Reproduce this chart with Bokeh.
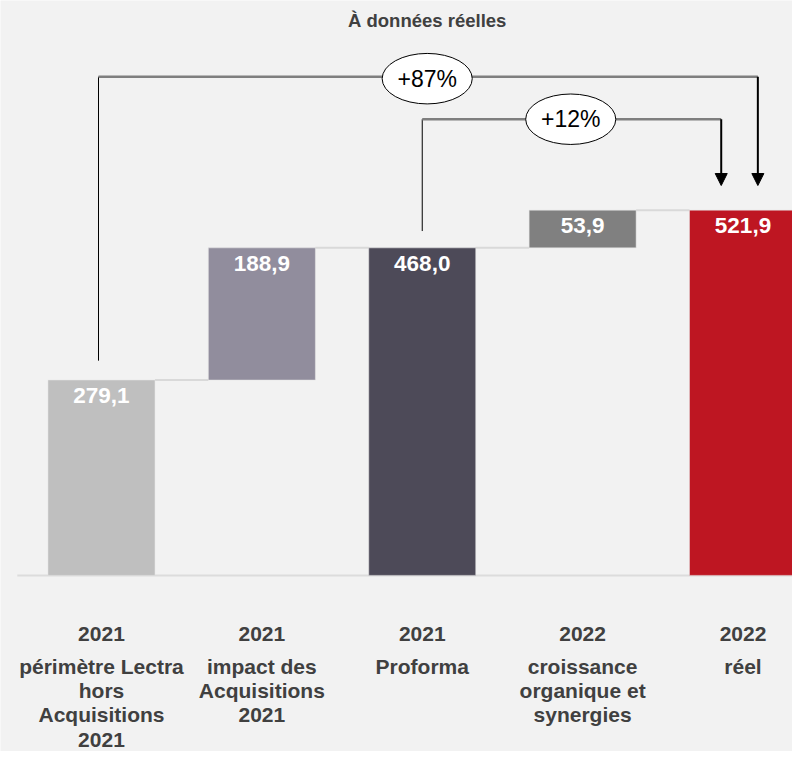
from bokeh.plotting import figure
from bokeh.models import Range1d, Arrow, NormalHead, ColumnDataSource
from bokeh.core.properties import value
from bokeh.embed import file_html
from bokeh.resources import INLINE

# ---- data ----
years = ["2021", "2021", "2021", "2022", "2022"]
descriptions = [
    "périmètre Lectra\nhors\nAcquisitions\n2021",
    "impact des\nAcquisitions\n2021",
    "Proforma",
    "croissance\norganique et\nsynergies",
    "réel",
]
values = [279.1, 188.9, 468.0, 53.9, 521.9]
kinds = ["total", "delta", "total", "delta", "total"]
value_labels = ["279,1", "188,9", "468,0", "53,9", "521,9"]
colors = ["#bfbfbf", "#918d9d", "#4d4a58", "#808080", "#be1622"]
title_text = "À données réelles"
growth_labels = ["+87%", "+12%"]

# ---- waterfall geometry ----
bottoms, tops = [], []
running = 0.0
for v, k in zip(values, kinds):
    if k == "total":
        b, t = 0.0, v
    else:
        b, t = running, running + v
    bottoms.append(b)
    tops.append(t)
    running = t

xs = list(range(len(values)))
BAR_W = 0.667

W, H = 792, 751
SPACING = 162.0          # reference px between bar centers
X0_PAGE = 102.0          # reference x of first bar center
SCALE = 331.0 / 468.0    # reference px per unit
BASE_PAGE = 581.0        # reference y of zero
K = W / 800.0            # figure px per reference px


def X(rx):
    return (rx - X0_PAGE) / SPACING


def Y(ry):
    return (BASE_PAGE - ry) / SCALE


def px(v):
    return v * K


p = figure(width=W, height=H, output_backend="svg", toolbar_location=None,
           x_range=Range1d(X(0), X(800)), y_range=Range1d(Y(759), Y(0)),
           min_border=0, tools="")
p.xaxis.visible = False
p.yaxis.visible = False
p.grid.visible = False
p.outline_line_color = None
p.background_fill_color = "#f2f2f2"
p.border_fill_color = "#f2f2f2"

FONT = value("Liberation Sans")

# baseline
p.segment(x0=[X(17)], y0=[0], x1=[X(800)], y1=[0], line_color="#dcdcdc", line_width=2)

# connectors
cx0 = [x + BAR_W / 2 for x in xs[:-1]]
cx1 = [x + 1 - BAR_W / 2 for x in xs[:-1]]
cy = tops[:-1]
p.segment(x0=cx0, y0=cy, x1=cx1, y1=cy, line_color="#d9d9d9", line_width=2)

src = ColumnDataSource(dict(x=xs, top=tops, bottom=bottoms, color=colors,
                            label=value_labels, year=years, desc=descriptions,
                            zero=[0] * len(xs)))
p.vbar(x="x", top="top", bottom="bottom", width=BAR_W, fill_color="color",
       line_color="#e6e6e6", line_alpha=0.5, line_width=1, source=src)

p.text(x="x", y="top", text="label", source=src, text_color="white",
       text_font=FONT, text_font_style="bold", text_font_size="22.5px",
       text_align="center", text_baseline="middle", y_offset=px(16))

# category labels
p.text(x="x", y="zero", text="year", source=src, text_color="#404040",
       text_font=FONT, text_font_style="bold", text_font_size="21px",
       text_align="center", text_baseline="middle", y_offset=px(59))
p.text(x="x", y="zero", text="desc", source=src, text_color="#404040",
       text_font=FONT, text_font_style="bold", text_font_size="21px",
       text_align="center", text_baseline="top", y_offset=px(80),
       text_line_height=1.06)

# title
p.text(x=[X(431)], y=[Y(20)], text=[title_text], text_color="#404040",
       text_font=FONT, text_font_style="bold", text_font_size="18.5px",
       text_align="center", text_baseline="middle")

# ---- growth annotations ----
lvl87 = Y(77)
lvl12 = Y(120)
tip = Y(187)
x87l, x87r = X(99), X(765)
x12l, x12r = X(426), X(728)

# left verticals (thin black)
p.segment(x0=[x87l, x12l], y0=[Y(364), Y(233)], x1=[x87l, x12l],
          y1=[lvl87, lvl12], line_color="black", line_width=1)
# horizontals (gray)
p.segment(x0=[x87l, x12l], y0=[lvl87, lvl12], x1=[x87r, x12r], y1=[lvl87, lvl12],
          line_color="#7f7f7f", line_width=2.5)
# arrows
for xr, lv in [(x87r, lvl87), (x12r, lvl12)]:
    p.add_layout(Arrow(x_start=xr, y_start=lv, x_end=xr, y_end=tip,
                       line_color="black", line_width=2,
                       end=NormalHead(size=12, fill_color="black", line_color="black")))

ex = [X(431), X(576)]
ey = [Y(79), Y(120)]
p.ellipse(x=ex, y=ey, width=px(91), height=px(51), width_units="screen",
          height_units="screen", fill_color="white", line_color="black", line_width=1)
p.text(x=ex, y=ey, text=growth_labels, text_color="black", text_font=FONT,
       text_font_size="23px", text_align="center", text_baseline="middle")

open("out.html", "w").write(file_html(p, INLINE))
